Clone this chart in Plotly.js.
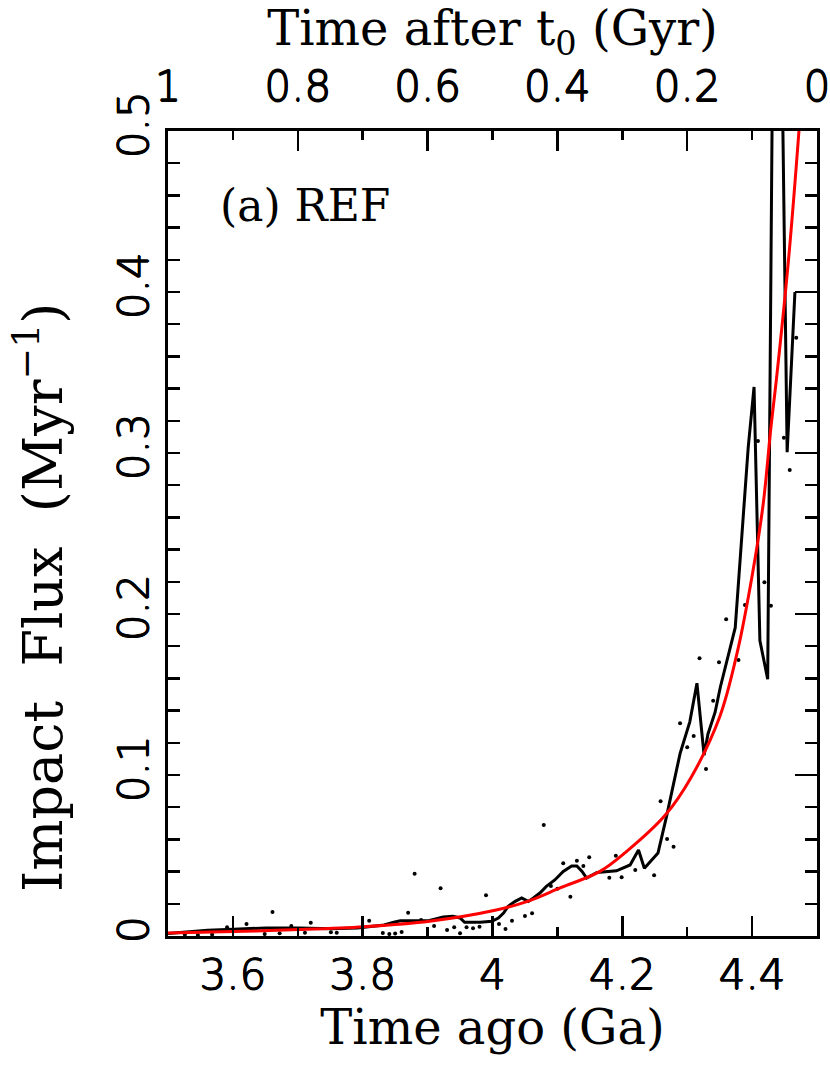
<!DOCTYPE html>
<html>
<head>
<meta charset="utf-8">
<script src="https://cdn.plot.ly/plotly-3.0.1.min.js"></script>
<style>
  body { margin: 0; background: #fff; }
  #graphDiv { width: 830px; height: 1071px; }
</style>
</head>
<body>
<div id="graphDiv"></div>
<script>
// running mean (black line)
const meanAgo = [3.500, 3.530, 3.561, 3.601, 3.651, 3.702, 3.752, 3.792, 3.812, 3.833, 3.848, 3.858, 3.878, 3.903,
  3.924, 3.939, 3.950, 3.957, 3.981, 3.999, 4.009, 4.017, 4.024, 4.035, 4.045, 4.055, 4.063, 4.073, 4.083,
  4.096, 4.109, 4.122, 4.130, 4.138, 4.145, 4.161, 4.191, 4.212, 4.225, 4.234, 4.255, 4.268, 4.289, 4.294,
  4.304, 4.315, 4.326, 4.332, 4.343, 4.351, 4.374, 4.394, 4.403, 4.412, 4.424, 4.437, 4.454, 4.466];
const meanFlux = [0.0015, 0.0025, 0.0035, 0.0042, 0.0050, 0.0050, 0.0045, 0.0050, 0.0058, 0.0068, 0.0085, 0.0095, 0.0095, 0.0097,
  0.0118, 0.0122, 0.0112, 0.0085, 0.0085, 0.0091, 0.0112, 0.0143, 0.0184, 0.0215, 0.0236, 0.0215, 0.0236, 0.0267, 0.0308,
  0.0348, 0.0401, 0.0435, 0.0435, 0.0401, 0.0360, 0.0395, 0.0405, 0.0441, 0.0534, 0.0421, 0.0515, 0.0740, 0.1133, 0.1195,
  0.1330, 0.1570, 0.1123, 0.1255, 0.1390, 0.1545, 0.1915, 0.3035, 0.3410, 0.1835, 0.1595, 0.82, 0.3005, 0.400];

// individual values (dots)
const rawAgo = [3.526, 3.546, 3.568, 3.591, 3.621, 3.649, 3.661, 3.672, 3.690, 3.711, 3.720, 3.751, 3.760, 3.810,
  3.831, 3.841, 3.850, 3.860, 3.870, 3.880, 3.890, 3.910, 3.920, 3.930, 3.941, 3.950, 3.960, 3.970, 3.980,
  3.990, 4.010, 4.020, 4.030, 4.050, 4.061, 4.079, 4.090, 4.100, 4.109, 4.120, 4.130, 4.140, 4.149,
  4.180, 4.190, 4.199, 4.220, 4.249, 4.259, 4.269, 4.279, 4.289, 4.300, 4.310, 4.319, 4.329, 4.340,
  4.349, 4.360, 4.379, 4.389, 4.409, 4.419, 4.429, 4.449, 4.458, 4.468];
const rawFlux = [0.0010, 0.0006, 0.0010, 0.0054, 0.0075, 0.0012, 0.0149, 0.0017, 0.0062, 0.0020, 0.0083, 0.0023, 0.0020, 0.0095,
  0.0019, 0.0012, 0.0016, 0.0025, 0.0145, 0.0386, 0.0099, 0.0062, 0.0296, 0.0037, 0.0054, 0.0017, 0.0054, 0.0048, 0.0058,
  0.0253, 0.0075, 0.0043, 0.0095, 0.0124, 0.0141, 0.0689, 0.0311, 0.0294, 0.0452, 0.0244, 0.0468, 0.0435, 0.0489,
  0.0362, 0.0499, 0.0365, 0.0410, 0.0377, 0.0837, 0.0602, 0.0555, 0.1321, 0.1172, 0.1242, 0.1725, 0.1037, 0.1461,
  0.1700, 0.1967, 0.1714, 0.2056, 0.3075, 0.2197, 0.2052, 0.3095, 0.2894, 0.3716];

// fitted flux (red curve)
const fitAgo = [3.500, 3.601, 3.702, 3.802, 3.903, 4.004, 4.054, 4.105, 4.165, 4.205, 4.266, 4.306, 4.350, 4.377,
  4.401, 4.417, 4.429, 4.437, 4.457, 4.475];
const fitFlux = [0.0018, 0.0028, 0.0040, 0.0058, 0.0092, 0.0160, 0.0215, 0.0300, 0.0400, 0.0520, 0.0750, 0.0985, 0.136, 0.176,
  0.226, 0.268, 0.316, 0.344, 0.424, 0.515];

// tick labels
const agoTicks = [3.6, 3.8, 4, 4.2, 4.4];
const agoLabels = ['3.6', '3.8', '4', '4.2', '4.4'];
const afterTicks = [1, 0.8, 0.6, 0.4, 0.2, 0];
const afterLabels = ['1', '0.8', '0.6', '0.4', '0.2', '0'];
const fluxTicks = [0, 0.1, 0.2, 0.3, 0.4, 0.5];
const fluxLabels = ['0', '0.1', '0.2', '0.3', '0.4', '0.5'];

function plotFlux()
{
    try
    {
        // thin face, thickened a little with a shadow to get the plotter look
        const tickFont = { family: 'DejaVu Sans', size: 42, color: '#000', weight: 200,
            shadow: '0.7px 0 0 #000, -0.7px 0 0 #000, 0 0.7px 0 #000, 0 -0.7px 0 #000' };
        const titleFont = { family: 'DejaVu Serif', size: 48, color: '#000' };

        const dots = { x: rawAgo, y: rawFlux, mode: 'markers', type: 'scatter',
            marker: { color: '#000', size: 4 }, hoverinfo: 'skip' };
        const mean = { x: meanAgo, y: meanFlux, mode: 'lines', type: 'scatter',
            line: { color: '#000', width: 3 } };
        const fit = { x: fitAgo, y: fitFlux, mode: 'lines', type: 'scatter',
            line: { color: '#ff0000', width: 3, shape: 'spline', smoothing: 1 } };
        // only here so the top and right axes get drawn
        const frame = { x: afterTicks, y: fluxTicks, xaxis: 'x2', yaxis: 'y2', mode: 'markers', type: 'scatter',
            marker: { opacity: 0 }, hoverinfo: 'skip' };

        const layout = {
            width: 830, height: 1071,
            margin: { l: 168, r: 13, t: 131, b: 135 },
            paper_bgcolor: '#fff', plot_bgcolor: '#fff',
            showlegend: false,
            xaxis: {
                range: [3.5, 4.5], tickmode: 'array', tickvals: agoTicks, ticktext: agoLabels,
                ticks: 'inside', ticklen: 20, tickwidth: 2.5, tickcolor: '#000',
                minor: { dtick: 0.1, tick0: 3.5, ticks: 'inside', ticklen: 9, tickwidth: 2.5, tickcolor: '#000' },
                showline: true, linewidth: 3, linecolor: '#000', showgrid: false, zeroline: false,
                tickfont: tickFont,
                title: { text: 'Time ago (Ga)', font: titleFont, standoff: 10 }
            },
            xaxis2: {
                overlaying: 'x', side: 'top', anchor: 'y', range: [1, 0],
                tickmode: 'array', tickvals: afterTicks, ticktext: afterLabels, ticklabeloverflow: 'allow',
                ticks: 'inside', ticklen: 20, tickwidth: 2.5, tickcolor: '#000', ticklabelstandoff: 10,
                minor: { dtick: 0.1, tick0: 0, ticks: 'inside', ticklen: 9, tickwidth: 2.5, tickcolor: '#000' },
                showline: true, linewidth: 3, linecolor: '#000', showgrid: false, zeroline: false,
                tickfont: tickFont,
                title: { text: 'Time after t<sub>0</sub> (Gyr)', font: titleFont, standoff: 4 }
            },
            yaxis: {
                range: [0, 0.5], tickmode: 'array', tickvals: fluxTicks, ticktext: fluxLabels,
                ticks: 'inside', ticklen: 12, tickwidth: 2.5, tickcolor: '#000', tickangle: -90,
                minor: { dtick: 0.02, tick0: 0, ticks: 'inside', ticklen: 12, tickwidth: 2.5, tickcolor: '#000' },
                showline: true, linewidth: 3, linecolor: '#000', showgrid: false, zeroline: false,
                tickfont: tickFont
            },
            yaxis2: {
                overlaying: 'y', side: 'right', anchor: 'x', range: [0, 0.5],
                tickmode: 'array', tickvals: fluxTicks, showticklabels: false,
                ticks: 'inside', ticklen: 22, tickwidth: 2.5, tickcolor: '#000',
                minor: { dtick: 0.02, tick0: 0, ticks: 'inside', ticklen: 12, tickwidth: 2.5, tickcolor: '#000' },
                showline: true, linewidth: 3, linecolor: '#000', showgrid: false, zeroline: false
            },
            annotations: [
                {
                    text: '(a) REF', xref: 'paper', yref: 'paper', x: 0.077, y: 0.908,
                    xanchor: 'left', yanchor: 'middle', showarrow: false,
                    font: { family: 'DejaVu Serif', size: 44, color: '#000' }
                },
                {
                    // y title placed by hand: it sits below the middle of the axis in the original
                    text: 'Impact&nbsp; Flux&nbsp; (Myr<sup>−1</sup>)', xref: 'paper', yref: 'paper',
                    x: -0.197, y: 0.42, xanchor: 'center', yanchor: 'middle', textangle: -90, showarrow: false,
                    font: { family: 'DejaVu Serif', size: 54, color: '#000' }
                }
            ]
        };

        Plotly.newPlot('graphDiv', [dots, mean, fit, frame], layout, { staticPlot: true });
    }
    catch (error)
    {
        console.error('Error plotting graph:', error);
    }
}

plotFlux();
</script>
</body>
</html>
